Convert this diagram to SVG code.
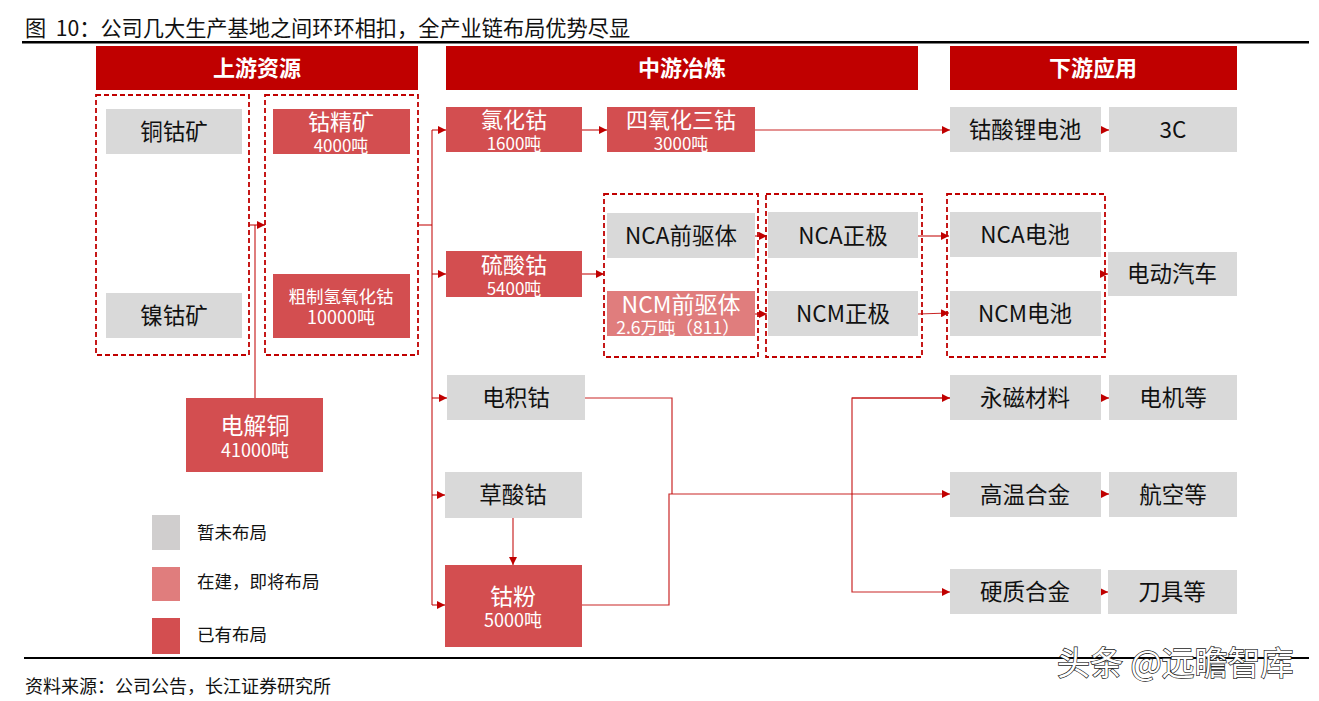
<svg xmlns="http://www.w3.org/2000/svg" width="1319" height="701" viewBox="0 0 1319 701">
<style>
text{font-family:"Microsoft YaHei","Noto Sans CJK SC","Noto Sans",sans-serif}
.hdr{fill:#C00000}
.ht{fill:#fff;font-size:22px;font-weight:bold;text-anchor:middle}
.g{fill:#D9D9D9}
.r{fill:#D34E50}
.p{fill:#E07D7D}
.gt{fill:#111;font-size:22.5px;text-anchor:middle}
.rt{fill:#fff;font-size:22px;text-anchor:middle}
.qt{fill:#fff;font-size:17px;text-anchor:middle}
.dash{fill:none;stroke:#C00000;stroke-width:1.8;stroke-dasharray:5,3}
.c{fill:none;stroke:#C00000;stroke-width:1.2;stroke-opacity:0.85}
.lt{fill:#111;font-size:17.5px}
</style>
<defs>
<marker id="ah" viewBox="0 0 10 10" refX="10" refY="5" markerWidth="8" markerHeight="8" markerUnits="userSpaceOnUse" orient="auto">
<path d="M0,0 L10,5 L0,10 Z" fill="#C00000"/>
</marker>
</defs>
<rect width="1319" height="701" fill="#fff"/>

<text x="25" y="36" style="font-size:21.2px;fill:#111">图&#160;&#160;10：公司几大生产基地之间环环相扣，全产业链布局优势尽显</text>
<rect x="22" y="41" width="1287" height="2.5" fill="#000"/>

<g id="header-up"><rect class="hdr" x="96" y="46" width="322" height="44"/><text class="ht" x="257" y="76">上游资源</text></g>
<g id="header-mid"><rect class="hdr" x="446" y="46" width="472" height="44"/><text class="ht" x="682" y="76">中游冶炼</text></g>
<g id="header-down"><rect class="hdr" x="950" y="46" width="287" height="44"/><text class="ht" x="1093" y="76">下游应用</text></g>

<g id="groups">
<rect class="dash" x="96" y="95" width="153" height="260"/>
<rect class="dash" x="265" y="95" width="153" height="260"/>
<rect class="dash" x="604" y="194" width="154" height="163"/>
<rect class="dash" x="766" y="194" width="156" height="163"/>
<rect class="dash" x="947" y="194" width="158" height="163"/>
</g>

<g id="connectors">
<path class="c" d="M255,398 V225"/>
<path class="c" d="M249,225 H265" marker-end="url(#ah)"/>
<path class="c" d="M418,225 H432"/>
<path class="c" d="M432,130 V605"/>
<path class="c" d="M432,130 H446" marker-end="url(#ah)"/>
<path class="c" d="M432,274 H446" marker-end="url(#ah)"/>
<path class="c" d="M432,398 H447" marker-end="url(#ah)"/>
<path class="c" d="M432,495 H445" marker-end="url(#ah)"/>
<path class="c" d="M432,605 H445" marker-end="url(#ah)"/>
<path class="c" d="M582,130 H607" marker-end="url(#ah)"/>
<path class="c" d="M755,130 H950" marker-end="url(#ah)"/>
<path class="c" d="M1101,130 H1109" marker-end="url(#ah)"/>
<path class="c" d="M582,274 H604" marker-end="url(#ah)"/>
<path class="c" d="M755,236 H767" marker-end="url(#ah)"/>
<path class="c" d="M755,314 H767" marker-end="url(#ah)"/>
<path class="c" d="M918,236 H949" marker-end="url(#ah)"/>
<path class="c" d="M918,314 L949,313" marker-end="url(#ah)"/>
<path class="c" d="M1100,274 H1108" marker-end="url(#ah)"/>
<path class="c" d="M585,398 H672 V494"/>
<path class="c" d="M582,605 H669 V494 H950" marker-end="url(#ah)"/>
<path class="c" d="M950,398 H852 V592 H950" marker-end="url(#ah)"/>
<path class="c" d="M852,398 H950" marker-end="url(#ah)"/>
<path class="c" d="M1101,398 H1109" marker-end="url(#ah)"/>
<path class="c" d="M1101,494 H1109" marker-end="url(#ah)"/>
<path class="c" d="M1101,592 H1108" marker-end="url(#ah)"/>
<path class="c" d="M513,518 V565" marker-end="url(#ah)"/>
</g>

<g id="n-tonggukuang"><rect class="g" x="106" y="109" width="136" height="45"/><text class="gt" x="174" y="140">铜钴矿</text></g>
<g id="n-niegukuang"><rect class="g" x="106" y="293" width="136" height="45"/><text class="gt" x="174" y="324">镍钴矿</text></g>
<g id="n-gujingkuang"><rect class="r" x="273" y="109" width="137" height="45"/><text class="rt" x="341" y="130">钴精矿</text><text class="qt" x="341" y="152">4000吨</text></g>
<g id="n-cuzhi"><rect class="r" x="273" y="274" width="137" height="64"/><text class="rt" x="341" y="303" style="font-size:17.5px">粗制氢氧化钴</text><text class="qt" x="341" y="324" style="font-size:18px">10000吨</text></g>
<g id="n-dianjietong"><rect class="r" x="186" y="398" width="137" height="74"/><text class="rt" x="255" y="434" style="font-size:23px">电解铜</text><text class="qt" x="255" y="457" style="font-size:18px">41000吨</text></g>

<g id="n-lvhuagu"><rect class="r" x="446" y="107" width="136" height="45"/><text class="rt" x="514" y="128">氯化钴</text><text class="qt" x="514" y="150">1600吨</text></g>
<g id="n-siyanghua"><rect class="r" x="607" y="107" width="148" height="45"/><text class="rt" x="681" y="128">四氧化三钴</text><text class="qt" x="681" y="150">3000吨</text></g>
<g id="n-liusuangu"><rect class="r" x="446" y="251" width="136" height="46"/><text class="rt" x="514" y="273">硫酸钴</text><text class="qt" x="514" y="295">5400吨</text></g>
<g id="n-nca-pre"><rect class="g" x="607" y="213" width="148" height="45"/><text class="gt" x="681" y="244">NCA前驱体</text></g>
<g id="n-ncm-pre"><rect class="p" x="607" y="291" width="148" height="45"/><text class="rt" x="681" y="313" style="font-size:23px">NCM前驱体</text><text class="qt" x="678" y="334" style="font-size:17.5px">2.6万吨（811）</text></g>
<g id="n-nca-cat"><rect class="g" x="768" y="212" width="150" height="46"/><text class="gt" x="843" y="244">NCA正极</text></g>
<g id="n-ncm-cat"><rect class="g" x="768" y="291" width="150" height="45"/><text class="gt" x="843" y="322">NCM正极</text></g>
<g id="n-dianjigu"><rect class="g" x="447" y="375" width="138" height="45"/><text class="gt" x="516" y="406">电积钴</text></g>
<g id="n-caosuangu"><rect class="g" x="445" y="472" width="137" height="46"/><text class="gt" x="513" y="503">草酸钴</text></g>
<g id="n-gufen"><rect class="r" x="445" y="565" width="137" height="82"/><text class="rt" x="513" y="605" style="font-size:23px">钴粉</text><text class="qt" x="513" y="627" style="font-size:18px">5000吨</text></g>

<g id="n-gsl"><rect class="g" x="950" y="107" width="151" height="45"/><text class="gt" x="1025" y="138">钴酸锂电池</text></g>
<g id="n-3c"><rect class="g" x="1109" y="107" width="128" height="45"/><text class="gt" x="1173" y="138">3C</text></g>
<g id="n-nca-bat"><rect class="g" x="950" y="212" width="151" height="45"/><text class="gt" x="1025" y="243">NCA电池</text></g>
<g id="n-ncm-bat"><rect class="g" x="950" y="291" width="151" height="45"/><text class="gt" x="1025" y="322">NCM电池</text></g>
<g id="n-ev"><rect class="g" x="1108" y="252" width="129" height="44"/><text class="gt" x="1172" y="282">电动汽车</text></g>
<g id="n-yongci"><rect class="g" x="950" y="375" width="151" height="45"/><text class="gt" x="1025" y="406">永磁材料</text></g>
<g id="n-dianji"><rect class="g" x="1109" y="375" width="128" height="45"/><text class="gt" x="1173" y="406">电机等</text></g>
<g id="n-gaowen"><rect class="g" x="950" y="472" width="151" height="45"/><text class="gt" x="1025" y="503">高温合金</text></g>
<g id="n-hangkong"><rect class="g" x="1109" y="472" width="128" height="45"/><text class="gt" x="1173" y="503">航空等</text></g>
<g id="n-yingzhi"><rect class="g" x="950" y="569" width="151" height="45"/><text class="gt" x="1025" y="600">硬质合金</text></g>
<g id="n-daoju"><rect class="g" x="1108" y="570" width="129" height="44"/><text class="gt" x="1172" y="600">刀具等</text></g>

<g id="legend">
<rect x="152" y="515" width="28" height="35" fill="#D0CECE"/><text class="lt" x="197" y="539">暂未布局</text>
<rect x="152" y="567" width="28" height="34" fill="#E07D7D"/><text class="lt" x="197" y="588">在建，即将布局</text>
<rect x="152" y="618" width="28" height="36" fill="#D34E50"/><text class="lt" x="197" y="641">已有布局</text>
</g>

<rect x="24" y="657" width="1285" height="2" fill="#000"/>
<text x="25" y="693" style="font-size:18px;fill:#111">资料来源：公司公告，长江证券研究所</text>
<text x="1057" y="675" style="font-size:33px;fill:#fff;stroke:#222;stroke-width:1.4;paint-order:stroke">头条 @远瞻智库</text>
</svg>
